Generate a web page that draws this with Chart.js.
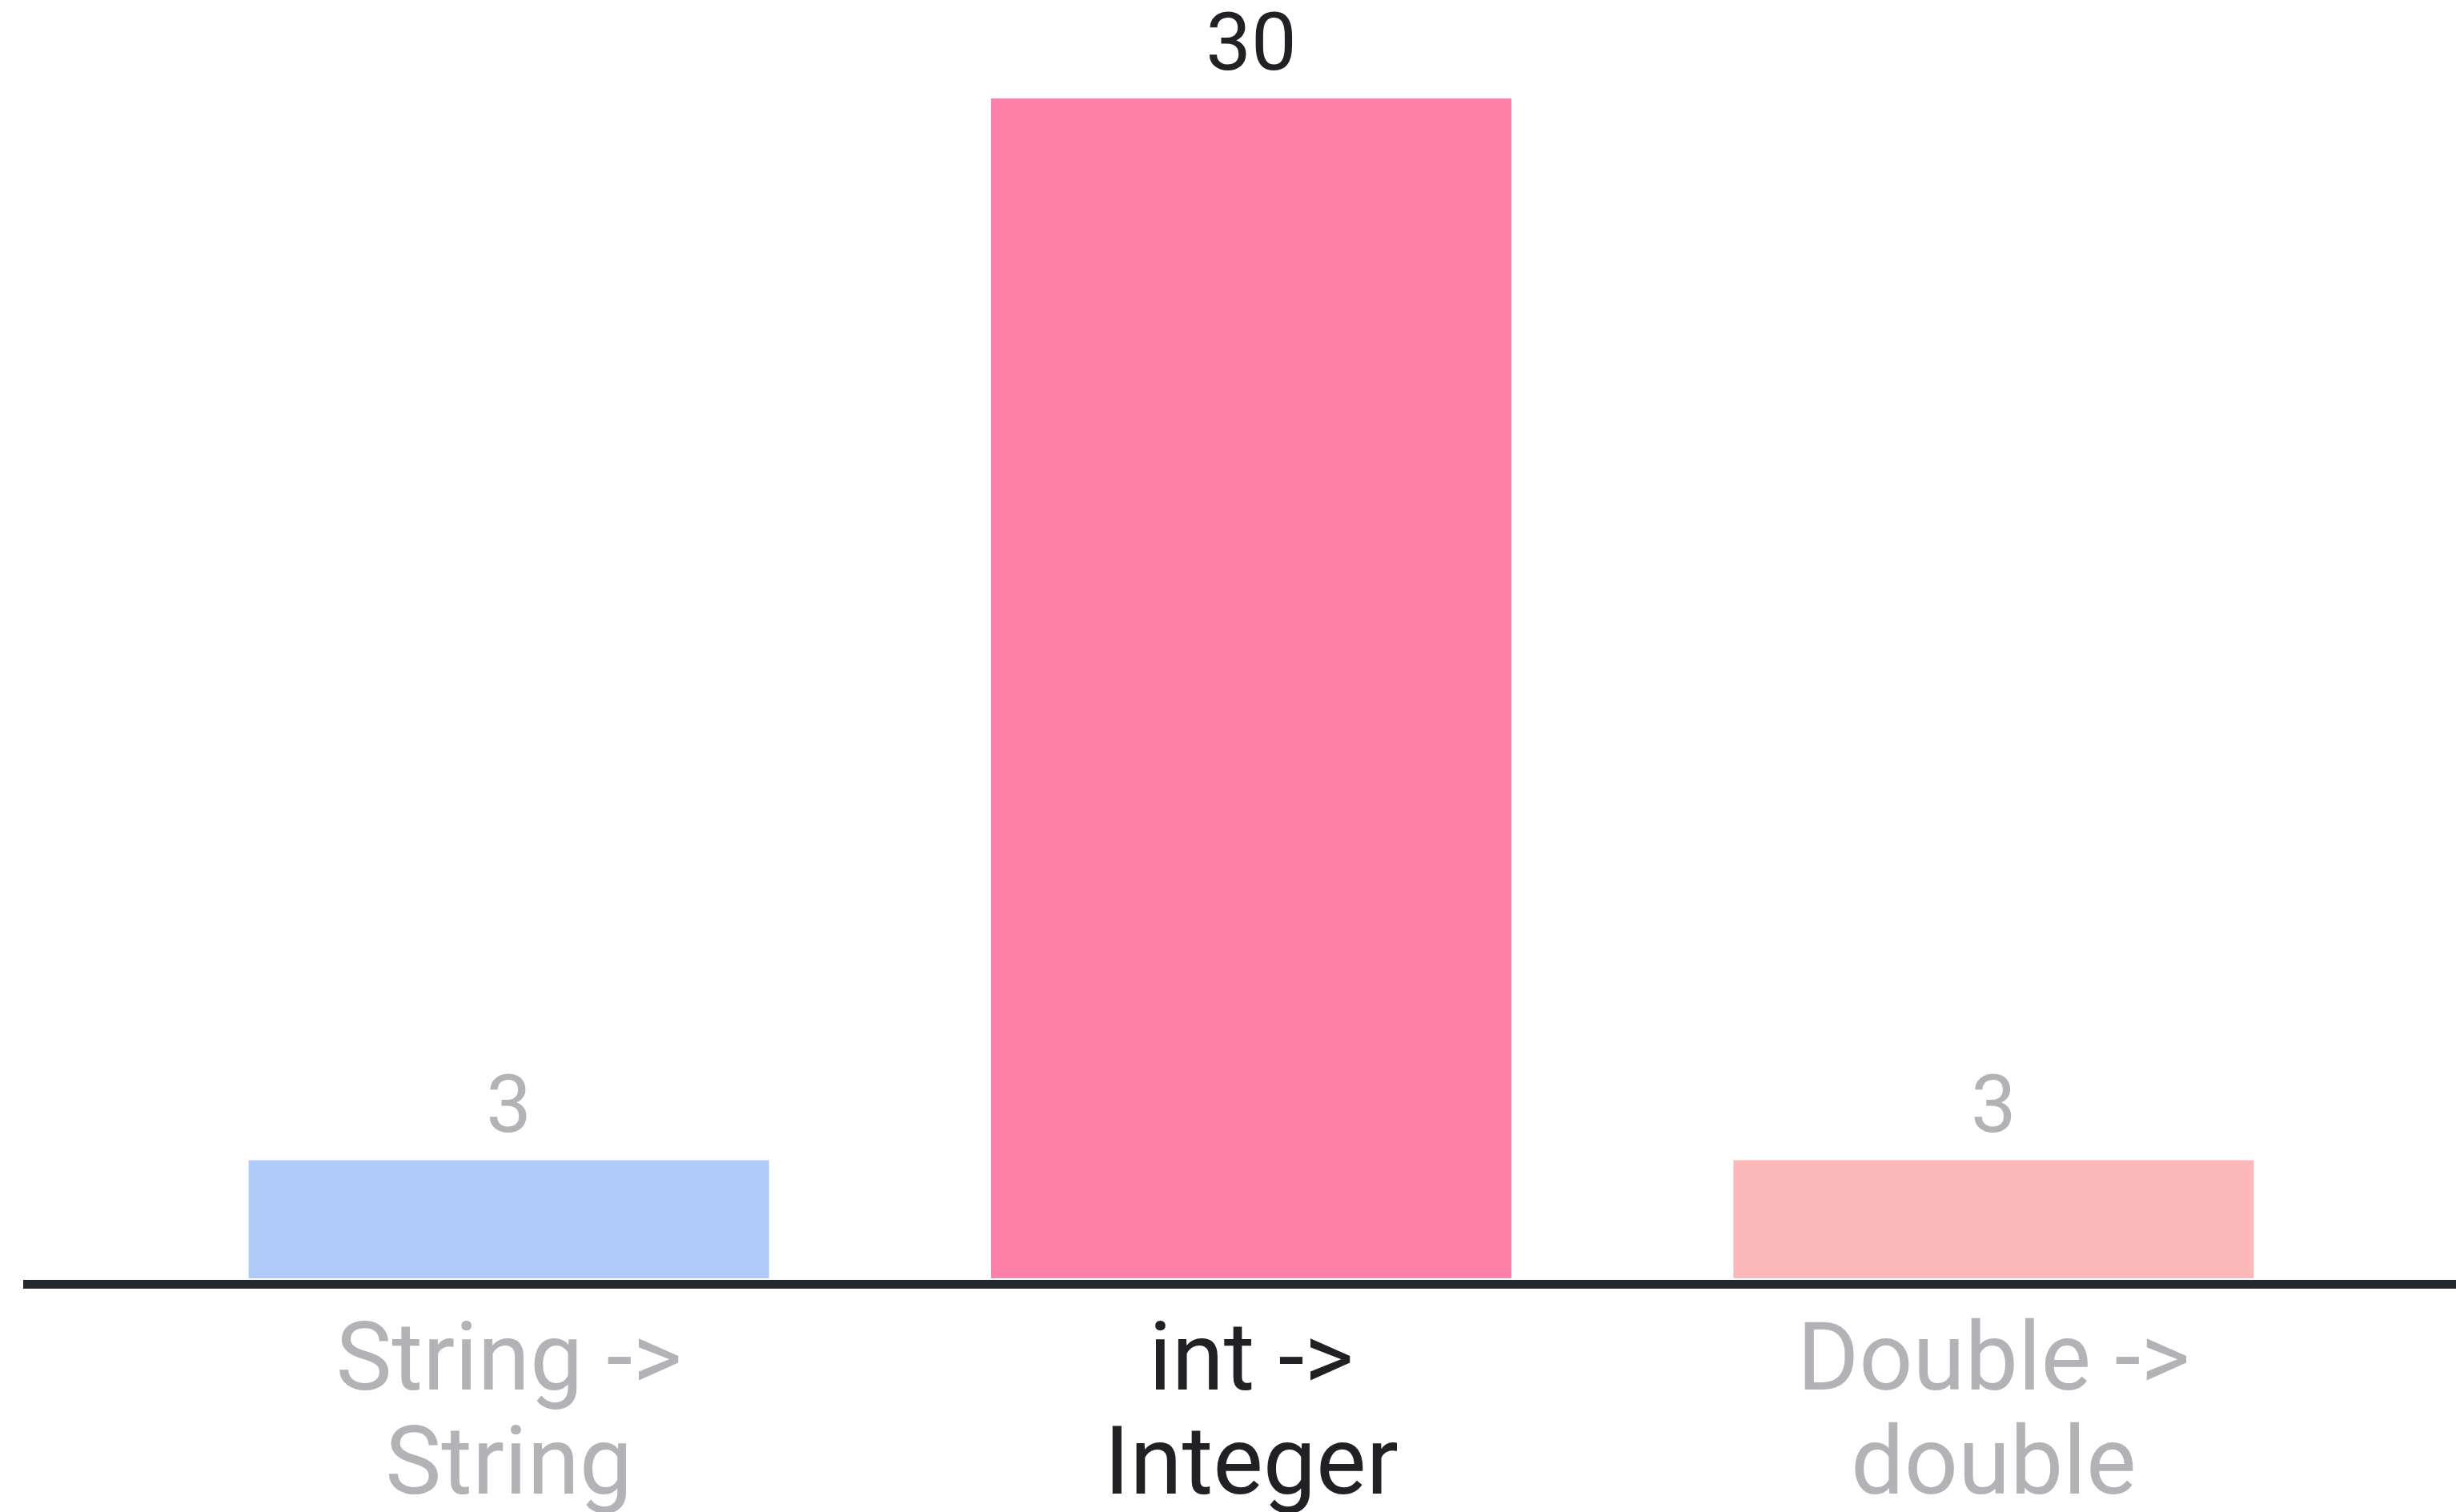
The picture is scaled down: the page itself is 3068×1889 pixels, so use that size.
<!DOCTYPE html>
<html>
<head>
<meta charset="utf-8">
<script src="https://cdn.jsdelivr.net/npm/chart.js@4"></script>
<style>
  html, body { margin: 0; padding: 0; background: #ffffff; }
  #wrap { width: 3068px; height: 1889px; }
</style>
</head>
<body>
<div id="wrap"><canvas id="boxingChart"></canvas></div>
<script>
// data
const categories = [["String ->", "String"], ["int ->", "Integer"], ["Double ->", "double"]];
const counts = [3, 30, 3];

// styles
const barColors = ["#aecbfa", "#ff80a9", "#fdb9b9"];
const textColors = ["#b2b3b7", "#202124", "#b2b3b7"];
const fontFamily = "Roboto, 'Noto Sans', sans-serif";

// value labels above each bar
const valueLabels = {
  id: "valueLabels",
  afterDatasetsDraw(chart) {
    const { ctx } = chart;
    const meta = chart.getDatasetMeta(0);
    ctx.save();
    ctx.font = `101px ${fontFamily}`;
    ctx.textAlign = "center";
    ctx.textBaseline = "alphabetic";
    meta.data.forEach((bar, i) => {
      ctx.fillStyle = textColors[i];
      ctx.fillText(String(counts[i]), bar.x, bar.y - 36);
    });
    ctx.restore();
  }
};

// heavy baseline running across the whole canvas
const baseLine = {
  id: "baseLine",
  afterDatasetsDraw(chart) {
    const { ctx } = chart;
    const y = chart.scales.y.getPixelForValue(0) + 7.5;
    ctx.save();
    ctx.strokeStyle = "#24282f";
    ctx.lineWidth = 11;
    ctx.beginPath();
    ctx.moveTo(29, y);
    ctx.lineTo(chart.width, y);
    ctx.stroke();
    ctx.restore();
  }
};

new Chart(document.getElementById("boxingChart"), {
  type: "bar",
  data: {
    labels: categories,
    datasets: [{
      data: counts,
      backgroundColor: barColors,
      borderWidth: 0,
      barPercentage: 0.701,
      categoryPercentage: 1
    }]
  },
  options: {
    responsive: true,
    maintainAspectRatio: false,
    animation: false,
    layout: { padding: { top: 123, left: 172, right: 114, bottom: 0 } },
    plugins: {
      legend: { display: false },
      tooltip: { enabled: false }
    },
    scales: {
      x: {
        grid: { display: false },
        border: { display: false },
        afterFit: scale => { scale.height = 292; },
        ticks: {
          padding: 37,
          font: { family: fontFamily, size: 118, lineHeight: 1.1 },
          color: ctx => textColors[ctx.index]
        }
      },
      y: {
        display: false,
        min: 0,
        max: 30
      }
    }
  },
  plugins: [valueLabels, baseLine]
});
</script>
</body>
</html>
